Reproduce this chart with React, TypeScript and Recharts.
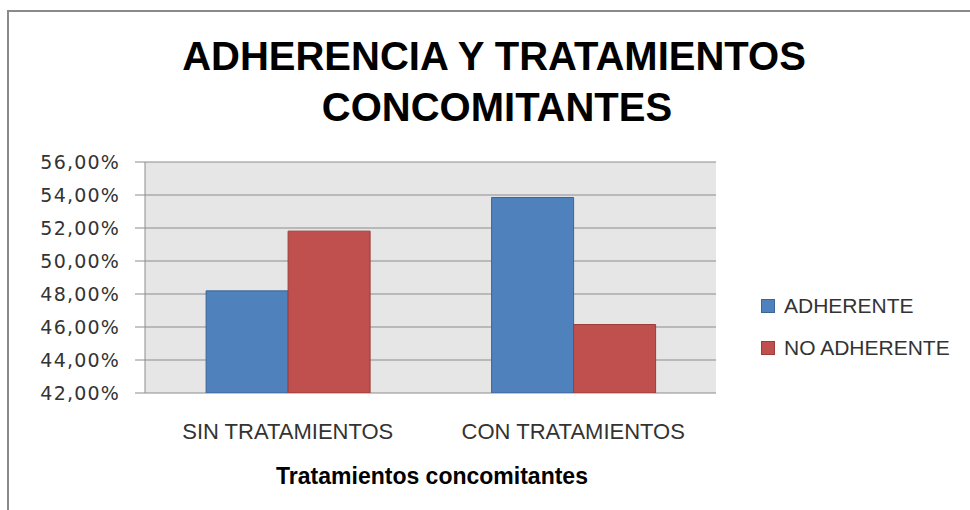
import React from 'react';
import { BarChart, Bar, XAxis, YAxis, CartesianGrid } from 'recharts';

const CATEGORIES = ['SIN TRATAMIENTOS', 'CON TRATAMIENTOS'];
const ADHERENTE = [48.19, 53.85];
const NO_ADHERENTE = [51.81, 46.15];
const Y_TICKS = [42, 44, 46, 48, 50, 52, 54, 56];
const SERIES = [
  { key: 'adherente', name: 'ADHERENTE', fill: '#4f81bd', stroke: '#3c6595' },
  { key: 'noAdherente', name: 'NO ADHERENTE', fill: '#c0504d', stroke: '#9b3d3a' },
];

const data = CATEGORIES.map((name, i) => ({
  name,
  adherente: ADHERENTE[i],
  noAdherente: NO_ADHERENTE[i],
}));

const pct = (v: number) => v.toFixed(2).replace('.', ',') + '%';

const AXIS = '#8c8c8c';
const TEXT = '#333';

export default function App() {
  return (
    <div style={{ position: 'absolute', left: 0, top: 0, width: 970, height: 510, background: '#fff' }}>
      <BarChart
        width={970}
        height={510}
        data={data}
        margin={{ top: 162, right: 254, left: 0, bottom: 0 }}
        barCategoryGap="21.4%"
        barGap={0}
      >
        <CartesianGrid vertical={false} fill="#e6e6e6" stroke={AXIS} strokeWidth={1} />
        {/* boundary ticks between categories, like the original */}
        <XAxis
          xAxisId={0}
          type="number"
          domain={[0, 2]}
          allowDataOverflow
          ticks={[0, 1, 2]}
          height={0}
          tick={false}
          tickSize={8}
          axisLine={{ stroke: AXIS }}
          tickLine={{ stroke: AXIS }}
        />
        <XAxis
          xAxisId={1}
          dataKey="name"
          height={117}
          axisLine={false}
          tickLine={false}
          tickSize={0}
          tickMargin={30}
          tick={{ fill: TEXT, fontSize: 22, fontFamily: 'Liberation Sans, Arial, sans-serif' }}
        />
        <YAxis
          width={145}
          domain={[42, 56]}
          ticks={Y_TICKS}
          allowDataOverflow
          tickFormatter={pct}
          tickSize={10}
          tickMargin={15}
          axisLine={{ stroke: AXIS }}
          tickLine={{ stroke: AXIS }}
          tick={{ fill: TEXT, fontSize: 19, fontFamily: 'DejaVu Sans, sans-serif', letterSpacing: 1.2 }}
        />
        {SERIES.map((s) => (
          <Bar
            key={s.key}
            xAxisId={1}
            dataKey={s.key}
            name={s.name}
            fill={s.fill}
            stroke={s.stroke}
            strokeWidth={1}
            isAnimationActive={false}
          />
        ))}
      </BarChart>

      <svg
        width={970}
        height={510}
        style={{ position: 'absolute', left: 0, top: 0, pointerEvents: 'none' }}
        fontFamily="Liberation Sans, Arial, sans-serif"
      >
        <path d="M8,510 V11 H970" fill="none" stroke="#8a8a8a" strokeWidth={2} />
        <text x={494} y={70} textAnchor="middle" fontSize={40} fontWeight="bold" fill="#000">
          ADHERENCIA Y TRATAMIENTOS
        </text>
        <text x={497} y={121} textAnchor="middle" fontSize={40} fontWeight="bold" fill="#000">
          CONCOMITANTES
        </text>
        <text x={432} y={484} textAnchor="middle" fontSize={23} fontWeight="bold" fill="#000">
          Tratamientos concomitantes
        </text>
        {SERIES.map((s, i) => (
          <g key={s.key}>
            <rect x={761.5} y={299.5 + i * 42} width={13} height={13} fill={s.fill} stroke={s.stroke} />
            <text x={784} y={313 + i * 42} fontSize={21} fill={TEXT}>
              {s.name}
            </text>
          </g>
        ))}
      </svg>
    </div>
  );
}
